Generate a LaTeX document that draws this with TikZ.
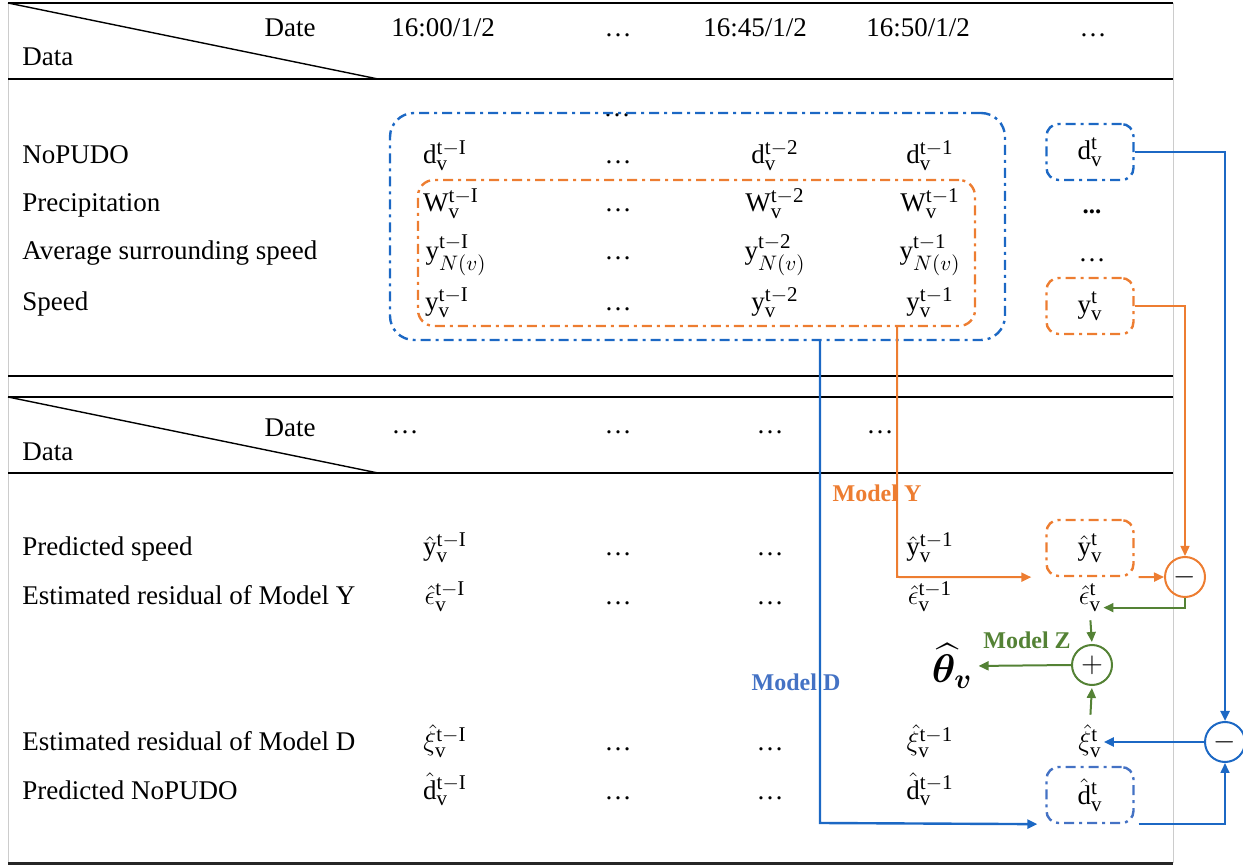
\RequirePackage{fix-cm}
\documentclass[tikz,border=0pt]{standalone}
\usepackage{amsmath,amssymb,bm}
\usepackage{fontspec}
\setmainfont{Liberation Serif}
\usepackage{tikz}
\usetikzlibrary{arrows.meta, positioning}

\definecolor{cblue}{RGB}{28,104,196}
\definecolor{corange}{RGB}{237,125,49}
\definecolor{cgreen}{RGB}{84,130,53}
\definecolor{cmodd}{RGB}{68,114,196}

\DeclareMathSizes{13.5}{13.5}{10.5}{8}
\DeclareMathSizes{20}{20}{14}{10}

\newcommand{\vv}[2]{$\mathrm{#1}_{\mathrm{v}}^{\mathrm{#2}}$}
\newcommand{\vhat}[2]{$\hat{#1}_{\mathrm{v}}^{\mathrm{#2}}$}

\begin{document}
\begin{tikzpicture}[
			x=0.5pt, y=-0.5pt,
			font=\fontsize{13.5}{16}\selectfont,
			lbl/.style={anchor=base west, inner sep=0pt},
			cell/.style={anchor=base, inner sep=1pt},
			rule/.style={line width=0.8pt},
			ddbox/.style={draw, rounded corners=6pt, line width=1.2pt, dash pattern=on 5pt off 2.5pt on 1.5pt off 2.5pt, minimum width=43.5pt, minimum height=28pt, inner sep=0pt},
			opcirc/.style={circle, draw, line width=1pt, minimum size=20pt, inner sep=0pt, font=\Large},
			tip/.style={-{Triangle[length=5pt,width=4.5pt]}},
			bline/.style={draw=cblue, line width=1.2pt},
			oline/.style={draw=corange, line width=1pt},
			gline/.style={draw=cgreen, line width=1pt},
			mlbl/.style={anchor=base, inner sep=0pt, font=\fontsize{12}{14}\selectfont\bfseries}
			]
			\useasboundingbox (0,0) rectangle (1243,865);
			% frame and rules
			\draw[black!20, line width=0.4pt] (8,3) -- (8,863);
			\draw[black!20, line width=0.4pt] (1173,3) -- (1173,863);
			\draw[rule] (8,3) -- (1173,3);
			\draw[rule] (8,79) -- (1173,79);
			\draw[line width=0.7pt] (8,3) -- (378,79);
			\draw[rule] (8,376) -- (1173,376);
			\draw[rule] (8,397) -- (1173,397);
			\draw[rule] (8,473) -- (1173,473);
			\draw[line width=0.7pt] (8,397) -- (378,473);
			\draw[line width=1.5pt, black!85] (8,863) -- (1173,863);

			% upper table header
			\node[cell] (date1) at (290,37) {Date};
			\node[lbl] (data1) at (22,66) {Data};
			\node[cell] (t0) at (443,37) {16:00/1/2};
			\node[cell] (tdots1) at (618,37) {\dots};
			\node[cell] (t45) at (755,37) {16:45/1/2};
			\node[cell] (t50) at (918,37) {16:50/1/2};
			\node[cell] (tdots2) at (1093,37) {\dots};

			% upper table rows
			\node[lbl] (nopudo) at (22,164) {NoPUDO};
			\node[lbl] (precip) at (22,212) {Precipitation};
			\node[lbl] (avgspd) at (22,260) {Average surrounding speed};
			\node[lbl] (speed) at (22,311) {Speed};

			\node[cell] (topdots) at (617,117) {\dots};
			\node[cell] (dI) at (445,164) {\vv{d}{t-I}};
			\node[cell] (ddots) at (618,164) {\dots};
			\node[cell] (d2) at (775,164) {\vv{d}{t-2}};
			\node[cell] (d1) at (930,164) {\vv{d}{t-1}};
			\node[cell] (wI) at (451,212) {\vv{W}{t-I}};
			\node[cell] (wdots) at (618,212) {\dots};
			\node[cell] (w2) at (775,212) {\vv{W}{t-2}};
			\node[cell] (w1) at (930,212) {\vv{W}{t-1}};
			\node[cell] (nI) at (456,260) {$\mathrm{y}_{N(v)}^{\mathrm{t-I}}$};
			\node[cell] (ndots) at (618,260) {\dots};
			\node[cell] (n2) at (775,260) {$\mathrm{y}_{N(v)}^{\mathrm{t-2}}$};
			\node[cell] (n1) at (930,260) {$\mathrm{y}_{N(v)}^{\mathrm{t-1}}$};
			\node[cell] (yI) at (447,311) {\vv{y}{t-I}};
			\node[cell] (ydots) at (618,311) {\dots};
			\node[cell] (y2) at (775,311) {\vv{y}{t-2}};
			\node[cell] (y1) at (930,311) {\vv{y}{t-1}};

			% history windows
			\node[ddbox, draw=cblue, rounded corners=12pt, minimum width=307.5pt, minimum height=113.5pt] (bigD) at (697.5,226.5) {};
			\node[ddbox, draw=corange, rounded corners=8pt, minimum width=278.5pt, minimum height=73pt] (bigY) at (696.5,253) {};

			% current step
			\node[ddbox, draw=cblue] (dbox) at (1090,152) {\vv{d}{t}};
			\node[cell, font=\fontsize{12.5}{15}\selectfont\bfseries] (vdots1) at (1092,214) {...};
			\node[cell] (vdots2) at (1092,262) {\dots};
			\node[ddbox, draw=corange] (ybox) at (1090,306) {\vv{y}{t}};

			% lower table header
			\node[cell] (date2) at (290,437) {Date};
			\node[lbl] (data2) at (22,461) {Data};
			\node[cell] (bdots1) at (405,434) {\dots};
			\node[cell] (bdots2) at (618,434) {\dots};
			\node[cell] (bdots3) at (770,434) {\dots};
			\node[cell] (bdots4) at (880,434) {\dots};

			% lower table rows
			\node[lbl] (predspd) at (22,556) {Predicted speed};
			\node[lbl] (resy) at (22,605) {Estimated residual of Model Y};
			\node[lbl] (resd) at (22,751) {Estimated residual of Model D};
			\node[lbl] (prednop) at (22,799) {Predicted NoPUDO};

			\node[cell] (yhI) at (445,556) {\vhat{\mathrm{y}}{t-I}};
			\node[cell] (yhdots1) at (618,556) {\dots};
			\node[cell] (yhdots2) at (770,556) {\dots};
			\node[cell] (yh1) at (930,556) {\vhat{\mathrm{y}}{t-1}};
			\node[cell] (ehI) at (445,605) {\vhat{\epsilon}{t-I}};
			\node[cell] (ehdots1) at (618,605) {\dots};
			\node[cell] (ehdots2) at (770,605) {\dots};
			\node[cell] (eh1) at (930,605) {\vhat{\epsilon}{t-1}};
			\node[cell] (xhI) at (445,751) {\vhat{\xi}{t-I}};
			\node[cell] (xhdots1) at (618,751) {\dots};
			\node[cell] (xhdots2) at (770,751) {\dots};
			\node[cell] (xh1) at (930,751) {\vhat{\xi}{t-1}};
			\node[cell] (dhI) at (445,799) {\vhat{\mathrm{d}}{t-I}};
			\node[cell] (dhdots1) at (618,799) {\dots};
			\node[cell] (dhdots2) at (770,799) {\dots};
			\node[cell] (dh1) at (930,799) {\vhat{\mathrm{d}}{t-1}};

			\node[ddbox, draw=corange] (yhbox) at (1090,548) {\vhat{\mathrm{y}}{t}};
			\node[cell] (ehat) at (1090,605) {\vhat{\epsilon}{t}};
			\node[cell] (xhat) at (1090,751) {\vhat{\xi}{t}};
			\node[ddbox, draw=cmodd] (dhbox) at (1090,795) {\vhat{\mathrm{d}}{t}};

			\node[opcirc, draw=corange] (minusY) at (1185,577) {$-$};
			\node[opcirc, draw=cgreen] (plusZ) at (1092,665) {$+$};
			\node[opcirc, draw=cblue] (minusD) at (1225,742) {$-$};
			\node[inner sep=1pt, font=\fontsize{20}{22}\selectfont] (theta) at (952,666) {$\widehat{\bm{\theta}}_{\bm{v}}$};

			\node[mlbl, text=corange] (modY) at (877,502) {Model Y};
			\node[mlbl, text=cmodd] (modD) at (796,691) {Model D};
			\node[mlbl, text=cgreen] (modZ) at (1027,649) {Model Z};

			% connectors
			\coordinate (dturn) at (820,823);
			\coordinate (yturn) at (897,577);
			\draw[bline, tip, shorten >=4pt] (bigD.south -| dturn) -- (dturn) -- (dhbox.south west);
			\draw[oline, tip, shorten >=7pt] (bigY.south -| yturn) -- (yturn) -- (yhbox.south west);
			\draw[oline, tip, shorten <=2pt] (yhbox.south east) -- (minusY.west);
			\draw[oline, line width=0.7pt, tip] (ybox.east) -| (minusY.north);
			\draw[bline, tip] (dbox.east) -| (minusD.north);
			\draw[bline, line width=0.8pt, tip, shorten <=2pt] (dhbox.south east) -| (minusD.south);
			\draw[bline, tip] (minusD.west) -- (minusD.west -| xhat.east);
			\draw[gline, tip] (minusY.south) |- ([yshift=-5pt]ehat.east);
			\draw[gline, tip, shorten <=3pt, shorten >=1pt] (ehat.south) -- (plusZ.north);
			\draw[gline, tip, shorten >=2pt] (plusZ.west) -- (theta.east);
			\draw[gline, tip, shorten <=4pt, shorten >=1pt] (xhat.north) -- (plusZ.south);
		\end{tikzpicture}
\end{document}
